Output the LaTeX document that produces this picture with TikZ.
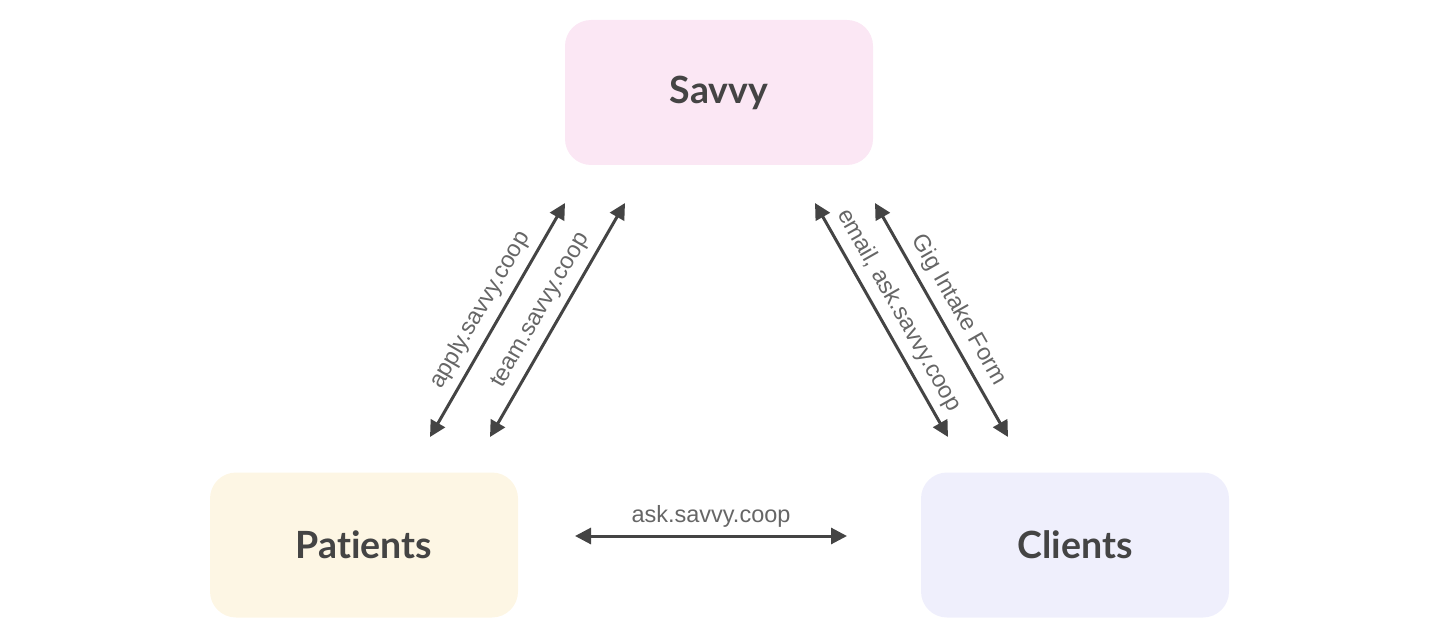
\documentclass[tikz,border=0pt]{standalone}
\usepackage{fontspec}
\setmainfont{Liberation Sans}
\newfontfamily\boxfont[Ligatures=NoCommon]{Lato}
\usetikzlibrary{arrows.meta}
\definecolor{savvypink}{HTML}{FBE7F4}
\definecolor{patientyellow}{HTML}{FDF6E4}
\definecolor{clientblue}{HTML}{EFEFFC}
\definecolor{arrowgray}{HTML}{444444}
\definecolor{labelgray}{HTML}{666666}
\tikzset{
  party/.style={rounded corners=26pt, minimum width=308pt, minimum height=145pt,
    text=arrowgray, font=\boxfont\bfseries\fontsize{37.5}{42}\selectfont},
  link/.style={draw=arrowgray, line width=3pt, {Triangle[length=16pt,width=16pt]}-{Triangle[length=16pt,width=16pt]}},
  linklabel/.style={sloped, above=4pt, text=labelgray, font=\fontsize{23.5}{28}\selectfont}
}
\begin{document}
\begin{tikzpicture}[x=1pt,y=-1pt]
  \useasboundingbox (0,0) rectangle (1440,639);
  % the three parties
  \node[party, fill=savvypink] (savvy) at (719,92.5) {Savvy};
  \node[party, fill=patientyellow] (patients) at (364,545) {Patients};
  \node[party, fill=clientblue] (clients) at (1075,545) {Clients};
  % free ends of the links
  \coordinate (apply-low) at (430,437);
  \coordinate (apply-high) at (565,203);
  \coordinate (team-low) at (490,437);
  \coordinate (team-high) at (625,203);
  \coordinate (email-high) at (815,203);
  \coordinate (email-low) at (948,437);
  \coordinate (gig-high) at (875,203);
  \coordinate (gig-low) at (1008,437);
  \coordinate (ask-left) at (575,536);
  \coordinate (ask-right) at (847,536);
  % links
  \draw[link] (apply-low) -- node[linklabel] {apply.savvy.coop} (apply-high);
  \draw[link] (team-low) -- node[linklabel] {team.savvy.coop} (team-high);
  \draw[link] (email-high) -- node[linklabel] {email, ask.savvy.coop} (email-low);
  \draw[link] (gig-high) -- node[linklabel] {Gig Intake Form} (gig-low);
  \draw[link] (ask-left) -- node[linklabel] {ask.savvy.coop} (ask-right);
\end{tikzpicture}
\end{document}
